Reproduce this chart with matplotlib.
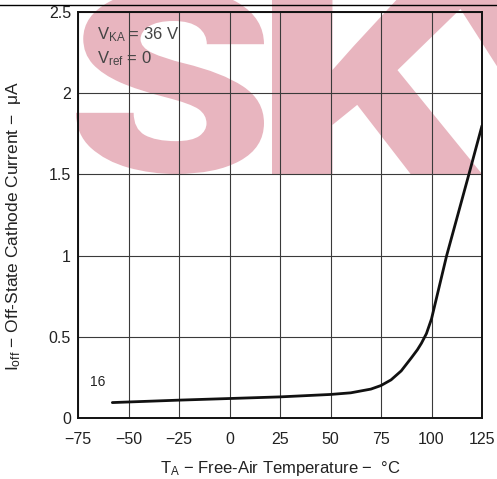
import matplotlib
matplotlib.use("Agg")
import matplotlib.pyplot as plt
import numpy as np
from matplotlib.lines import Line2D
from matplotlib.textpath import TextPath
from matplotlib.patches import PathPatch
from matplotlib.path import Path
from matplotlib.font_manager import FontProperties, findfont
from matplotlib.transforms import Affine2D
import os

plt.rcParams['font.family'] = ['Liberation Sans', 'DejaVu Sans']
plt.rcParams['mathtext.fontset'] = 'custom'
plt.rcParams['mathtext.rm'] = 'Liberation Sans'
plt.rcParams['mathtext.it'] = 'Liberation Sans'
plt.rcParams['axes.unicode_minus'] = True

# Data
temperature_c = [-58, -25, 0, 25, 50, 60, 70, 75, 80, 85, 90, 93, 95, 97.5, 100, 107.5, 118.5, 125]
ioff_ua = [0.095, 0.11, 0.12, 0.13, 0.145, 0.155, 0.178, 0.2, 0.235, 0.29, 0.37, 0.42, 0.46, 0.52, 0.61, 1.0, 1.5, 1.80]

x_ticks = [-75, -50, -25, 0, 25, 50, 75, 100, 125]
y_ticks = [0, 0.5, 1, 1.5, 2, 2.5]
y_tick_labels = ['0', '0.5', '1', '1.5', '2', '2.5']

W, H = 497, 479
fig = plt.figure(figsize=(W/100, H/100), dpi=100)
ax = fig.add_axes([78/W, 1 - 418/H, (482-78)/W, (418-12)/H])
ax.set_facecolor('none')
ax.set_zorder(1)

# ---- watermark (heavy letters) ----
prop = None
for fam, w in [('Roboto', 'black'), ('Lato', 'black'), ('Inter', 'black'),
               ('Roboto', 'bold'), ('Liberation Sans', 'bold'), ('DejaVu Sans', 'bold')]:
    fp = FontProperties(family=fam, weight=w)
    try:
        f = os.path.basename(findfont(fp, fallback_to_default=False))
    except Exception:
        f = ''
    if ('Black' in f or 'Heavy' in f) or (w == 'bold' and 'Bold' in f):
        prop = fp
        break
if prop is None:
    prop = FontProperties(family='DejaVu Sans', weight='bold')

pix = Affine2D().scale(1 / W, 1 / H) + fig.transFigure
wm_color = (0.91, 0.71, 0.75)
bottom_px = 174       # letter bottom, pixels from top
cap_h = 186           # letter height in pixels
# (letter, left px, right px)
letters = [('S', 76, 264), ('K', 272, 482), ('Y', 447, 657)]
for ch, xl, xr in letters:
    tp = TextPath((0, 0), ch, size=1, prop=prop)
    verts = np.asarray(tp.vertices, dtype=float)
    codes = tp.codes
    if codes is not None:
        keep = np.asarray(codes) != Path.CLOSEPOLY
        pts = verts[keep]
    else:
        pts = verts
    x0, y0 = pts.min(axis=0)
    x1, y1 = pts.max(axis=0)
    sx = (xr - xl) / (x1 - x0)
    sy = cap_h / (y1 - y0)
    new_verts = np.column_stack([(verts[:, 0] - x0) * sx + xl,
                                 (verts[:, 1] - y0) * sy + (H - bottom_px)])
    path = Path(new_verts, codes)
    patch = PathPatch(path, facecolor=wm_color, edgecolor='none',
                      transform=pix, zorder=0)
    fig.add_artist(patch)

# top border line
fig.add_artist(Line2D([0, 1], [1 - 4.5/H, 1 - 4.5/H], transform=fig.transFigure,
                      color='black', lw=1.0, zorder=0.5))

ax.plot(temperature_c, ioff_ua, color='#111111', lw=2.0, solid_capstyle='round', zorder=3)

ax.set_xlim(-75, 125)
ax.set_ylim(0, 2.5)
ax.set_xticks(x_ticks)
ax.set_yticks(y_ticks)
ax.set_yticklabels(y_tick_labels)
ax.grid(True, color='#3a3a3a', lw=0.8, zorder=2)
ax.tick_params(length=0, labelsize=11.5, labelcolor='#222222')
ax.tick_params(axis='x', pad=10)
ax.tick_params(axis='y', pad=5)
for s in ax.spines.values():
    s.set_linewidth(1.4)
    s.set_color('#111111')

ax.set_xlabel(r'T$_{\rm A}$ − Free-Air Temperature −  °C', fontsize=12, color='#222222', labelpad=9)
ax.set_ylabel(r'I$_{\rm off}$ − Off-State Cathode Current −  μA', fontsize=12.5, color='#222222')
ax.yaxis.set_label_coords(-0.136, 0.473)

ax.text(-65.6, 2.334, r'V$_{\rm KA}$ = 36 V', fontsize=12, color='#444444', va='baseline')
ax.text(-65.6, 2.186, r'V$_{\rm ref}$ = 0', fontsize=12, color='#444444', va='baseline')
ax.text(-69, 0.20, '16', fontsize=10, color='#222222', va='baseline')

fig.savefig('out.png', dpi=100)
